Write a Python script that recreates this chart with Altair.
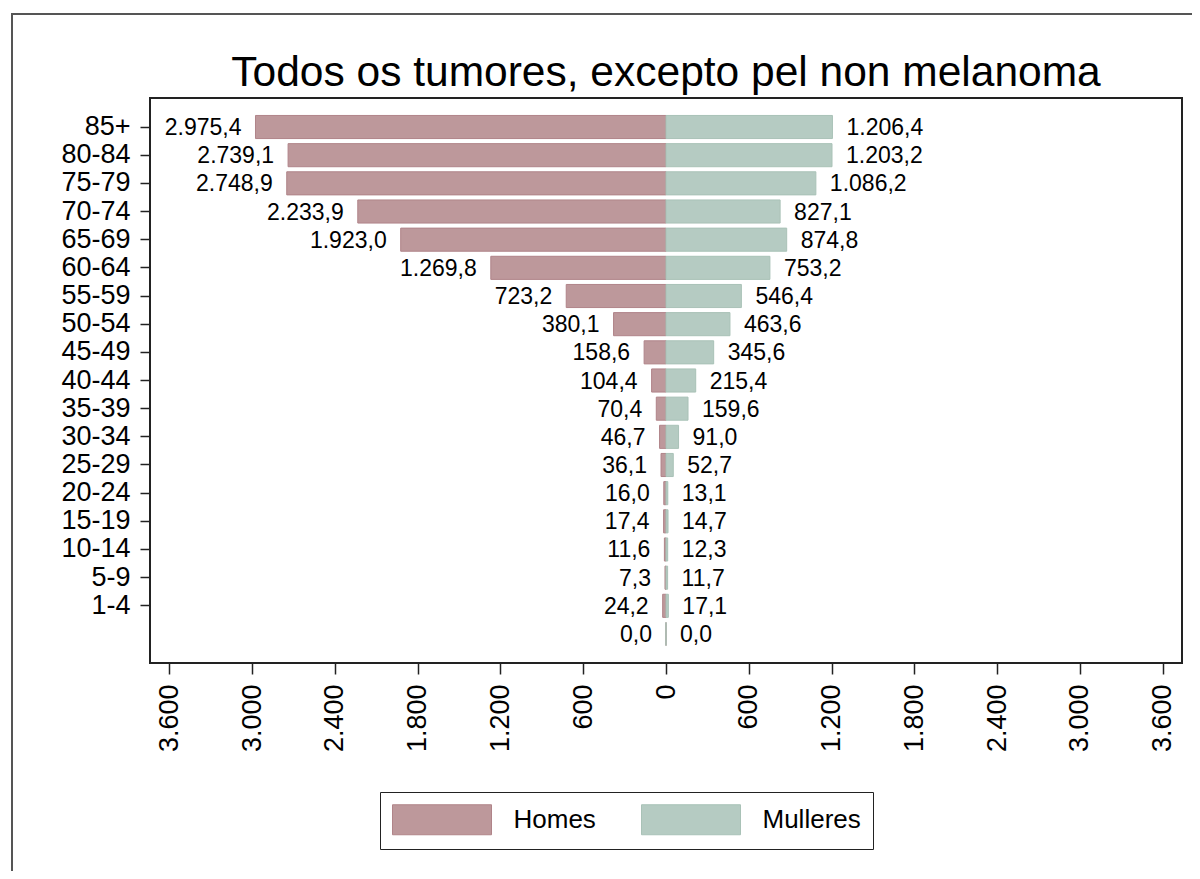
import altair as alt
import pandas as pd

# ---- data ----
ages = ["85+", "80-84", "75-79", "70-74", "65-69", "60-64", "55-59", "50-54",
        "45-49", "40-44", "35-39", "30-34", "25-29", "20-24", "15-19", "10-14",
        "5-9", "1-4", "<1"]
homes = [2975.4, 2739.1, 2748.9, 2233.9, 1923.0, 1269.8, 723.2, 380.1,
         158.6, 104.4, 70.4, 46.7, 36.1, 16.0, 17.4, 11.6, 7.3, 24.2, 0.0]
mulleres = [1206.4, 1203.2, 1086.2, 827.1, 874.8, 753.2, 546.4, 463.6,
            345.6, 215.4, 159.6, 91.0, 52.7, 13.1, 14.7, 12.3, 11.7, 17.1, 0.0]
sexes = ["Homes", "Mulleres"]
x_ticks = [-3600, -3000, -2400, -1800, -1200, -600, 0, 600, 1200, 1800, 2400, 3000, 3600]

fills = ["#bd989b", "#b5cbc2"]
strokes = ["#b08489", "#a9c2b7"]
FONT = "Liberation Sans, Arial, sans-serif"

rows = []
for a, h, m in zip(ages, homes, mulleres):
    rows.append({"age": a, "sexo": "Homes", "valor": h})
    rows.append({"age": a, "sexo": "Mulleres", "valor": m})
df = pd.DataFrame(rows)

base = alt.Chart(df).transform_calculate(
    xv="datum.sexo == 'Homes' ? -datum.valor : datum.valor",
    lab="replace(replace(replace(format(datum.valor, ',.1f'), ',', '#'), '.', ','), '#', '.')",
)

xenc = alt.X(
    "xv:Q",
    scale=alt.Scale(domain=[-3740, 3740], nice=False),
    axis=alt.Axis(
        values=x_ticks,
        labelExpr="replace(format(abs(datum.value), ',.0f'), ',', '.')",
        labelAngle=270,
        tickSize=11,
        labelPadding=10,
        title=None,
    ),
)
yenc = alt.Y(
    "age:N",
    sort=ages,
    scale=alt.Scale(paddingInner=0.18, paddingOuter=0.62),
    axis=alt.Axis(values=ages[:-1], tickSize=10, labelPadding=10, title=None),
)

leg = alt.Legend(
    title=None,
    orient="none",
    legendX=230,
    legendY=694,
    direction="horizontal",
    columns=2,
    symbolType="M-3.3,-1L3.3,-1L3.3,1L-3.3,1Z",
    symbolSize=900,
    symbolOffset=34.5,
    symbolStrokeWidth=1,
    labelFontSize=26,
    labelFont=FONT,
    labelColor="black",
    labelOffset=56,
    columnPadding=43,
    padding=12,
    strokeColor="#222",
)

bars = base.mark_bar(strokeWidth=1).encode(
    x=xenc,
    y=yenc,
    color=alt.Color("sexo:N", scale=alt.Scale(domain=sexes, range=fills), legend=leg),
    stroke=alt.Stroke("sexo:N", scale=alt.Scale(domain=sexes, range=strokes), legend=leg),
)

text_h = base.transform_filter("datum.sexo == 'Homes'").mark_text(
    align="right", dx=-14, dy=1, fontSize=23, font=FONT, color="black"
).encode(x=xenc, y=yenc, text="lab:N")

text_m = base.transform_filter("datum.sexo == 'Mulleres'").mark_text(
    align="left", dx=14, dy=1, fontSize=23, font=FONT, color="black"
).encode(x=xenc, y=yenc, text="lab:N")

frame = alt.Chart(pd.DataFrame({"k": [0]})).mark_rect(
    fillOpacity=0, stroke="#555555", strokeWidth=2
).encode(
    x=alt.value(-138), x2=alt.value(2000), y=alt.value(-84), y2=alt.value(2000)
)

chart = alt.layer(frame, bars, text_h, text_m).properties(
    width=1032,
    height=565,
    autosize=alt.AutoSizeParams(type="none"),
    padding={"left": 142, "top": 90, "right": 10, "bottom": 208},
    title=alt.Title(
        "Todos os tumores, excepto pel non melanoma",
        fontSize=42.5,
        font=FONT,
        fontWeight="normal",
        anchor="middle",
        frame="group",
        baseline="alphabetic",
        offset=-115,
        color="black",
    ),
).configure_view(
    stroke="#222222", strokeWidth=2
).configure_axis(
    labelFont=FONT,
    labelFontSize=27,
    labelColor="black",
    tickColor="#222222",
    tickWidth=1.5,
    domain=False,
    grid=False,
)

chart.save("out.html", embed_options={"renderer": "svg", "actions": False})
